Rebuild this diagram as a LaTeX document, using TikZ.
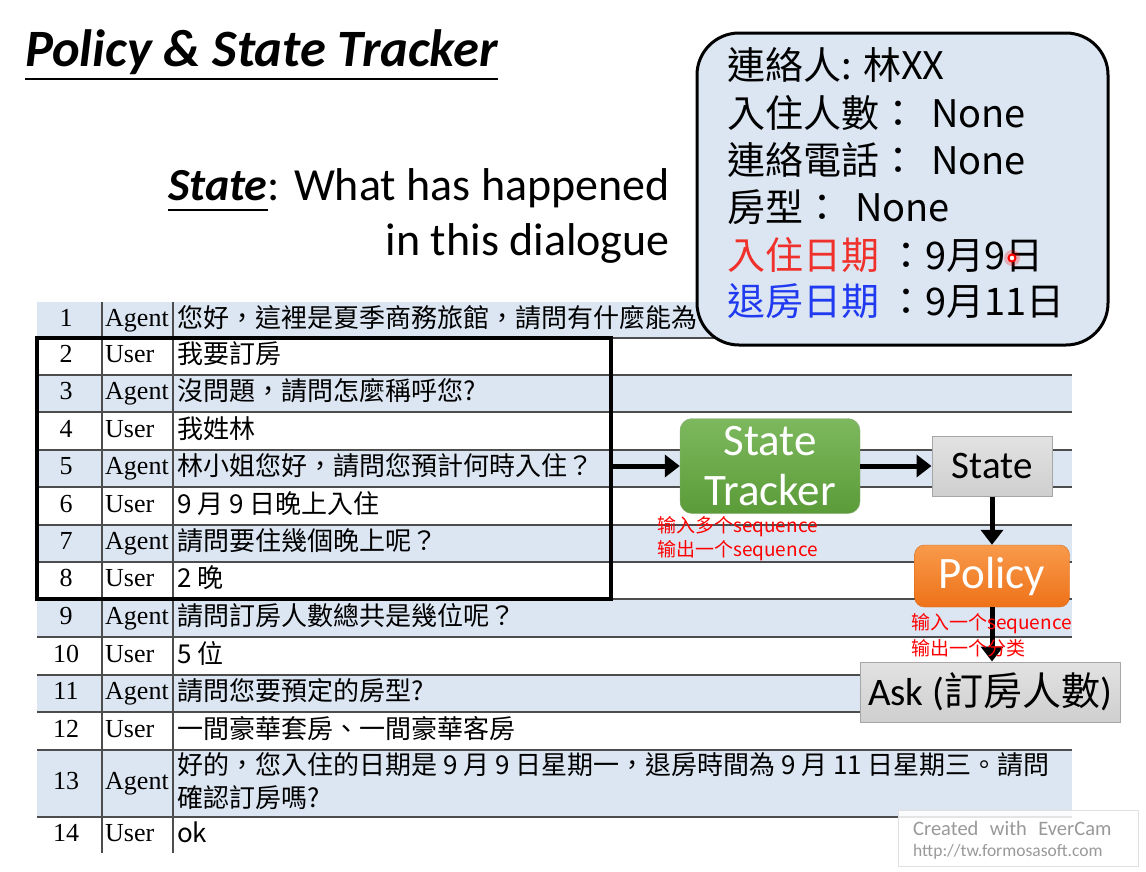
\documentclass[tikz,border=0pt]{standalone}
\usepackage{fontspec}
\setmainfont{Carlito}
\newfontfamily\tcfont{Noto Sans CJK TC}
\newfontfamily\scfont{Noto Sans CJK SC}
\newfontfamily\rmtab{Liberation Serif}
\usetikzlibrary{arrows.meta}
\definecolor{rowblue}{HTML}{DCE6F2}
\definecolor{rulegray}{HTML}{4D4D4D}
\definecolor{cred}{HTML}{F0302A}
\definecolor{cblue}{HTML}{1F3AF0}
\definecolor{greytop}{HTML}{E2E2E2}
\definecolor{greybot}{HTML}{CFCFCF}
\definecolor{greenA}{HTML}{7DB85E}
\definecolor{greenB}{HTML}{5B9B38}
\definecolor{orangeA}{HTML}{F89A4C}
\definecolor{orangeB}{HTML}{EE7218}
\newcommand\dlgrow[5]{%
  \node[numcell] (n#1) at (66,#2) {#3};
  \node[spkcell] (s#1) at (105,#2) {#4};
  \node[txtcell] (t#1) at (177,#2) {#5};}
\tikzset{
  numcell/.style={inner sep=0pt, text height=18pt, text depth=6pt,
    font=\rmtab\fontsize{26}{31}\selectfont},
  spkcell/.style={numcell, anchor=west},
  txtcell/.style={anchor=west, inner sep=0pt, text height=19pt, text depth=5pt,
    font=\tcfont\fontsize{26}{30}\selectfont},
  ctxbox/.style={draw=black, line width=3.5pt, minimum width=574pt, minimum height=261pt, inner sep=0pt},
  memo/.style={draw=black, line width=3pt, fill=rowblue, rounded corners=42pt,
    minimum width=411pt, minimum height=312pt, inner sep=0pt},
  field/.style={anchor=west, inner sep=0pt, text height=30pt, text depth=8pt,
    font=\tcfont\fontsize{38}{44}\selectfont},
  trackerbox/.style={rounded corners=12pt, top color=greenA, bottom color=greenB,
    draw=greenB!80!black!60, minimum width=180pt, minimum height=95pt, inner sep=0pt,
    align=center, text=white, font=\fontsize{45}{54}\selectfont},
  greybox/.style={top color=greytop, bottom color=greybot, draw=gray!70, line width=1pt,
    inner sep=0pt, text=black},
  policybox/.style={rounded corners=10pt, top color=orangeA, bottom color=orangeB,
    draw=orangeB!90!black, minimum width=155pt, minimum height=62pt, inner sep=0pt,
    text=white, font=\fontsize{45}{52}\selectfont},
  bigarrow/.style={line width=5pt, -{Triangle[length=15pt,width=22pt]}},
  note/.style={anchor=west, inner sep=0pt, text=red, font=\scfont\fontsize{19}{22}\selectfont},
  markbox/.style={fill=white, fill opacity=0.85, draw=gray!25, line width=1pt,
    minimum width=240pt, minimum height=56pt, inner sep=0pt}
}
\begin{document}
\begin{tikzpicture}[x=1pt, y=-1pt]
\useasboundingbox (0,0) rectangle (1146,871);
\fill[white] (0,0) rectangle (1146,871);

% heading
\node[anchor=base west, inner sep=0pt, font=\bfseries\itshape\fontsize{52.5}{62}\selectfont]
  (title) at (25,66) {Policy \& State Tracker};
\draw[line width=2pt] ([yshift=-13pt]title.base west) -- ([yshift=-13pt]title.base east);

\node[anchor=base east, inner sep=0pt, font=\fontsize{46}{54}\selectfont]
  (what) at (670,200) {: What has happened};
\node[anchor=base east, inner sep=0pt, font=\bfseries\itshape\fontsize{46}{54}\selectfont]
  (stw) at (what.base west) {State};
\draw[line width=2pt] ([yshift=-10pt]stw.base west) -- ([yshift=-10pt]stw.base east);
\node[anchor=base east, inner sep=0pt, font=\fontsize{46}{54}\selectfont]
  (dlg) at (670,255) {in this dialogue};

% dialogue table: shaded agent rows
\foreach \a/\b in {302/338, 375/412, 450/487, 525/562, 599/637, 675/712, 750/817}
  \fill[rowblue] (37,\a) rectangle (1072,\b);
\foreach \y in {338,375,412,450,487,525,562,599,637,675,712,750,817}
  \draw[rulegray, line width=2pt] (37,\y) -- (1072,\y);
\foreach \x in {102,173}
  \draw[rulegray, line width=1.6pt] (\x,302) -- (\x,853);

\dlgrow{1}{320}{1}{Agent}{您好，這裡是夏季商務旅館，請問有什麼能為}
\dlgrow{2}{356.5}{2}{User}{我要訂房}
\dlgrow{3}{393.5}{3}{Agent}{沒問題，請問怎麼稱呼您?}
\dlgrow{4}{431}{4}{User}{我姓林}
\dlgrow{5}{468.5}{5}{Agent}{林小姐您好，請問您預計何時入住？}
\dlgrow{6}{506}{6}{User}{9 月 9 日晚上入住}
\dlgrow{7}{543.5}{7}{Agent}{請問要住幾個晚上呢？}
\dlgrow{8}{580.5}{8}{User}{2 晚}
\dlgrow{9}{618}{9}{Agent}{請問訂房人數總共是幾位呢？}
\dlgrow{10}{656}{10}{User}{5 位}
\dlgrow{11}{693.5}{11}{Agent}{請問您要預定的房型?}
\dlgrow{12}{731}{12}{User}{一間豪華套房、一間豪華客房}
\node[numcell] (n13) at (66,783.5) {13};
\node[spkcell] (s13) at (105,783.5) {Agent};
\node[txtcell] (t13) at (177,767) {好的，您入住的日期是 9 月 9 日星期一，退房時間為 9 月 11 日星期三。請問};
\node[txtcell] (t13b) at (177,800) {確認訂房嗎?};
\dlgrow{14}{835}{14}{User}{ok}

% context window over turns 2-8
\node[ctxbox] (ctx) at (324,468.5) {};

% tracked slots
\node[memo] (mem) at (902.5,189) {};
\node[field] (f1) at (727,68) {連絡人: 林XX};
\node[field] (f2) at (727,116) {入住人數：\hspace{14pt}None};
\node[field] (f3) at (727,163) {連絡電話：\hspace{14pt}None};
\node[field] (f4) at (727,210) {房型：\hspace{14pt}None};
\node[field] (f5) at (727,258) {{\color{cred}入住日期}\hspace{8pt}：9月9日};
\node[field] (f6) at (727,304) {{\color{cblue}退房日期}\hspace{8pt}：9月11日};
% pointer mark
\fill[red, opacity=0.25] (1012,258) circle (8pt);
\draw[red, line width=2pt, fill=white] (1012,258) circle (3.5pt);

% pipeline
\node[trackerbox] (tracker) at (770,466) {State\\[-4pt]Tracker};
\node[greybox, minimum width=120pt, minimum height=60pt, font=\fontsize{39}{44}\selectfont]
  (st) at (992,466) {State};
\node[policybox] (pol) at (992,576) {Policy};
\node[greybox, minimum width=260pt, minimum height=60pt, font=\fontsize{39}{44}\selectfont]
  (ask) at (990,692) {Ask ({\tcfont 訂房人數})};

\draw[bigarrow] (ctx.east |- tracker.west) -- (tracker.west);
\draw[bigarrow] (tracker.east) -- (st.west);
\draw[bigarrow] (st.south) -- (pol.north);
\draw[bigarrow] (pol.south) -- (pol.south |- ask.north);

\node[note] (in1) at (657,527) {输入多个sequence};
\node[note] (out1) at (657,551) {输出一个sequence};
\node[note] (in2) at (911,624) {输入一个sequence};
\node[note] (out2) at (911,648) {输出一个分类};

% recorder stamp
\node[markbox] (wm) at (1018,838) {};
\node[anchor=west, inner sep=0pt, text=gray!80, font=\fontsize{20.5}{24}\selectfont]
  (wm1) at (913,828) {Created\,\, with\,\, EverCam};
\node[anchor=west, inner sep=0pt, text=gray!80, font=\fontsize{17.5}{20}\selectfont]
  (wm2) at (913,852) {http://tw.formosasoft.com};
\end{tikzpicture}
\end{document}
